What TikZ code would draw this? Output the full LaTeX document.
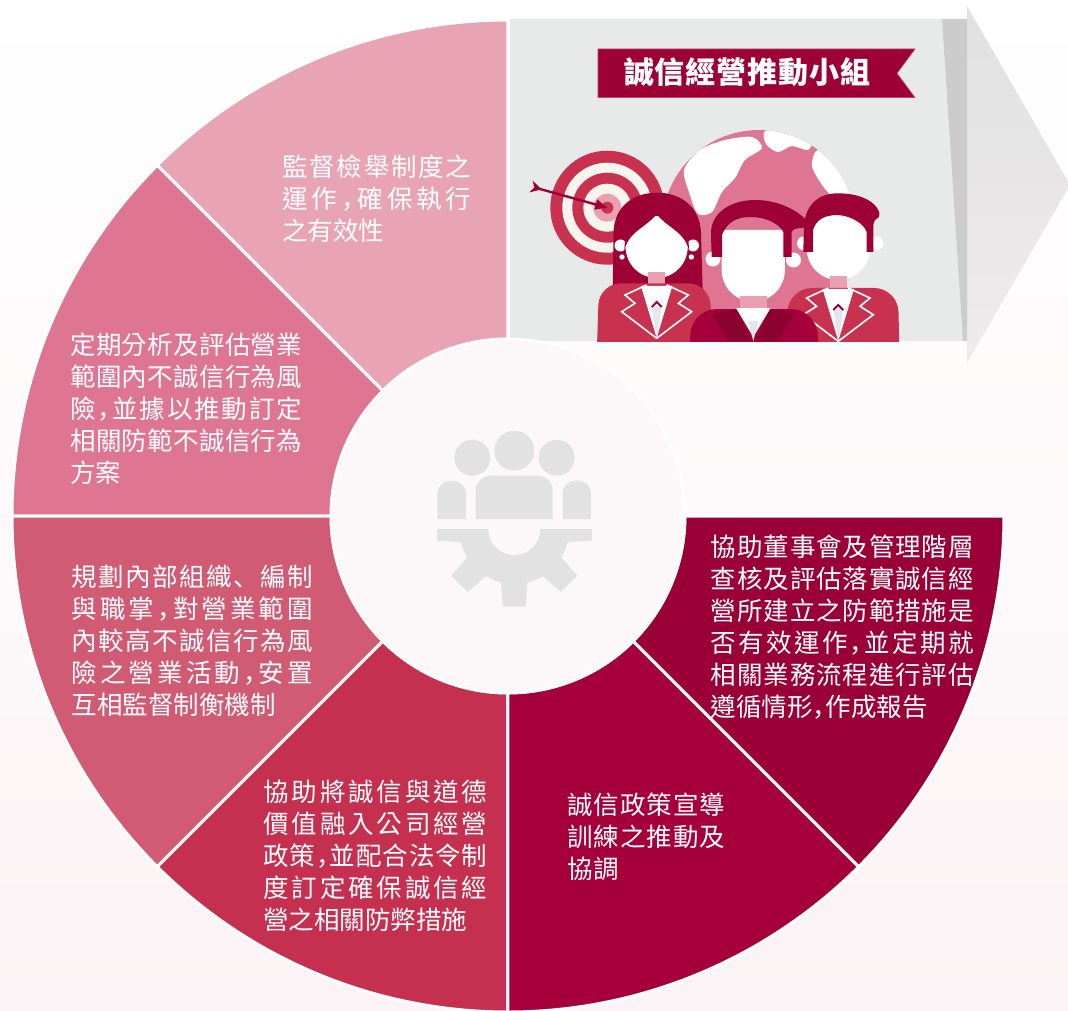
\documentclass[tikz,border=0pt]{standalone}
\usepackage{fontspec}
\newfontfamily\cjk{Noto Sans CJK TC}
\newfontfamily\cjksc{Noto Sans CJK SC}
\usetikzlibrary{arrows.meta}

\definecolor{segA}{HTML}{E8A4B5}
\definecolor{segB}{HTML}{DE7592}
\definecolor{segC}{HTML}{D15B75}
\definecolor{segD}{HTML}{C63050}
\definecolor{segE}{HTML}{A6003A}
\definecolor{segF}{HTML}{9A0036}
\definecolor{panel}{HTML}{E8EAE9}
\definecolor{strip}{HTML}{CBCCCB}
\definecolor{arrowgrey}{HTML}{E1E1E1}
\definecolor{arrowfade}{HTML}{EEEBEC}
\definecolor{hub}{HTML}{FCF8F9}
\definecolor{icon}{HTML}{E2E2E2}
\definecolor{bgpink}{HTML}{FBF3F5}
\definecolor{crimson}{HTML}{9C0034}
\definecolor{bannerline}{HTML}{C04468}
\definecolor{jacket}{HTML}{C8324F}
\definecolor{darkjacket}{HTML}{A5003A}
\definecolor{lapeldark}{HTML}{8A002E}
\definecolor{globe}{HTML}{DE7592}
\definecolor{skinpink}{HTML}{EBA0B2}
\definecolor{cream}{HTML}{F8F5EF}
\definecolor{tiegrey}{HTML}{E4E6EC}

\tikzset{seg/.style={draw=white, line width=3pt}}
\tikzset{px/.style={shift={(-508,516)}, yscale=-1}}
\tikzset{lbl/.style={font=\cjk\fontsize{25.5}{32}\selectfont, text=white, inner sep=0pt, anchor=base west}}
\tikzset{ttl/.style={font=\cjk\bfseries\fontsize{30}{30}\selectfont, text=white, inner sep=0pt, anchor=base}}
\tikzset{lapel/.style={draw=white, line width=1.6pt}}

% spread the characters of one line over a fixed width
\def\spreadfirst#1{#1\spreadrest}
\def\spreadrest#1{\ifx#1\relax\else\hfill#1\expandafter\spreadrest\fi}
\newcommand\spreadline[2]{\makebox[#1][l]{\spreadfirst#2\relax}}
\newcommand\dou{\makebox[.5em][l]{\cjksc ，}}
\newcommand\dun{{\cjksc 、}}

% shirt, tie and lapels, drawn from the collar point
\newcommand\suit{%
  \fill[white] (-15.7,1) -- (15.7,1) -- (0,53) -- cycle;
  \fill[tiegrey] (-5,21) -- (5,21) -- (0,53) -- cycle;
  \draw[crimson, line width=2pt] (-5,22) -- (0,17) -- (5,22);
  \draw[lapel] (-10,0) -- (-31.7,10) -- (-21.7,18.3) -- (-35,26.7) -- (0,53.3);
  \draw[lapel] (10,0) -- (31.7,10) -- (21.7,18.3) -- (35,26.7) -- (0,53.3);
}

\begin{document}
\begin{tikzpicture}[x=1pt, y=1pt]
  \useasboundingbox (-508,-494) rectangle (560,516);
  \shade[top color=white, bottom color=bgpink] (-508,-494) rectangle (560,516);
  \shade[top color=arrowgrey, middle color=arrowgrey, bottom color=arrowfade] (459,510) -- (562,331) -- (459,153) -- cycle;

  \begin{scope}[px]
    \fill[panel] (510,19) rectangle (967,341);
    \fill[strip] (942,19) -- (967,19) -- (967,341) -- (963,341) -- cycle;
    \filldraw[fill=crimson, draw=bannerline, line width=.6pt] (598,49) -- (915,49) -- (897,73.3) -- (915,97.7) -- (598,97.7) -- cycle;
    \node[ttl] (title) at (747,84) {\spreadline{246pt}{誠信經營推動小組}};

    \begin{scope}
      \clip (510,19) rectangle (942,341);
      % globe
      \fill[globe] (759,227) circle[radius=97];
      \begin{scope}
        \clip (759,227) circle[radius=97];
        \fill[white] plot[smooth cycle] coordinates {(684,170) (700,150) (725,140) (752,137) (762,148) (745,160) (735,178) (722,192) (712,212) (698,214) (690,195)};
        \fill[white] plot[smooth cycle] coordinates {(765,131) (790,128) (812,138) (808,150) (792,146) (778,152) (766,144)};
        \fill[white] plot[smooth cycle] coordinates {(818,150) (840,166) (854,195) (860,225) (850,240) (844,220) (834,200) (822,185) (812,166)};
        \fill[white] plot[smooth cycle] coordinates {(668,240) (684,232) (694,250) (692,278) (700,300) (688,312) (674,290) (666,265)};
      \end{scope}
      % target and arrow
      \coordinate (bull) at (607.3,207.7);
      \coordinate (tail) at (531,186.5);
      \foreach \r/\c in {57/jacket,45/cream,35/jacket,24/cream,14/skinpink,6/jacket}
        \fill[\c] (bull) circle[radius=\r];
      \draw[crimson, line width=2.4pt, {Stealth[reversed, length=11pt, width=12pt]}-{Triangle[length=12pt, width=10pt]}] (tail) -- (bull);

      % right man
      \fill[white] (804,243.3) circle[radius=7] (876.5,243.3) circle[radius=7];
      \fill[white] (806.7,215) -- (806.7,248.4) arc[start angle=180, end angle=0, radius=31.6] -- (869.9,215) -- cycle;
      \fill[crimson] (803.3,252) -- (804,225) .. controls (806,203) and (820,193.3) .. (838,193.3)
        .. controls (858,193.3) and (872,200) .. (877,208) .. controls (880,212) and (880,216) .. (878,218)
        .. controls (875,219) and (873,222) .. (873.3,228) -- (873.3,252) -- (866.7,252) -- (866.7,232)
        .. controls (864,224) and (852,216) .. (838,215) .. controls (824,215) and (816,220) .. (813,230) -- (813,252) -- cycle;
      \fill[skinpink] (829.6,276) rectangle (847,292);
      \fill[jacket, rounded corners=24] (786,380) -- (788,288) -- (898,288) -- (900,380) -- cycle;
      \begin{scope}[shift={(838.3,288)}]
        \suit
      \end{scope}

      % woman
      \fill[crimson] (612.7,292) -- (613.5,233) .. controls (614,205) and (635,192.7) .. (657,192.7)
        .. controls (679,192.7) and (700,205) .. (701,233) -- (702.7,292) -- cycle;
      \fill[white] (620.5,245.5) circle[radius=6] (693,245.5) circle[radius=6];
      \fill[white] (622,257) circle[radius=2.7] (691.4,257) circle[radius=2.7];
      \fill[white] (656.7,247) circle[radius=31];
      \fill[crimson] (624,254) .. controls (626,232) and (646,228) .. (656.7,214) .. controls (667,228) and (687,232) .. (689.5,254)
        -- (686,212) -- (627,212) -- cycle;
      \fill[skinpink] (648,272) rectangle (665.4,290);
      \fill[jacket, rounded corners=22] (596,380) -- (599,283.3) -- (710,283.3) -- (713,380) -- cycle;
      \begin{scope}[shift={(656.7,285)}]
        \suit
      \end{scope}

      % man in front
      \fill[white] (713,259) circle[radius=7.5] (793.5,260) circle[radius=7.5];
      \fill[white] (721.7,230) -- (721.7,270) arc[start angle=180, end angle=0, radius=31.6] -- (784.9,230) -- cycle;
      \fill[crimson] (711.7,257) -- (711,235) .. controls (710,212) and (732,200) .. (755,200)
        .. controls (778,200) and (795,210) .. (802,216) .. controls (806,219) and (808,224) .. (806,227)
        .. controls (800,229) and (794,227) .. (791.5,232) -- (791.5,257) -- (783.3,257) -- (783.3,232)
        .. controls (780,225) and (768,217) .. (750,217) .. controls (735,217) and (726,224) .. (722,235) -- (722,257) -- cycle;
      \fill[skinpink] (740,296) rectangle (766.6,312);
      \fill[darkjacket, rounded corners=26] (689,380) -- (691,309) -- (817,309) -- (819,380) -- cycle;
      \fill[lapeldark] (712,313) -- (737,309) -- (751,341) -- (728,341) -- cycle;
      \fill[lapeldark] (794.6,313) -- (769.6,309) -- (755.6,341) -- (778.6,341) -- cycle;
      \fill[white] (736,308) -- (770.6,308) -- (753.3,337) -- cycle;
      \fill[tiegrey] (748.3,321) -- (758.3,321) -- (753.3,341) -- cycle;
    \end{scope}
  \end{scope}

  % ring
  \foreach \a/\c in {90/segA,135/segB,180/segC,225/segD,270/segE,315/segF}
    \filldraw[seg, fill=\c] (\a:496) arc[start angle=\a, end angle=\a+45, radius=496]
      -- ({\a+45}:177) arc[start angle=\a+45, end angle=\a, radius=177] -- cycle;
  \filldraw[fill=hub, draw=white, line width=2.5pt] (0,0) circle[radius=177];

  \begin{scope}[px]
    % team and gear
    \fill[icon] (472.3,457.7) circle[radius=18] (556.7,457.7) circle[radius=18];
    \fill[icon] (437.3,519) [rounded corners=13] -- (437.3,480.7) -- (466,480.7) -- (466,500) [sharp corners] -- (466,519) -- cycle;
    \fill[icon] (591,519) [rounded corners=13] -- (591,480.7) -- (562.6,480.7) -- (562.6,500) [sharp corners] -- (562.6,519) -- cycle;
    \fill[icon, preaction={draw=hub, line width=6pt}] (514.3,450.7) circle[radius=20];
    \fill[icon, preaction={draw=hub, line width=6pt}] (475.7,519) [rounded corners=15] -- (475.7,475.7) -- (552.7,475.7) -- (552.7,500) [sharp corners] -- (552.7,519) -- cycle;
    \begin{scope}
      \clip (430,529) rectangle (600,620);
      \fill[icon] (514.3,529) circle[radius=55];
      \foreach \t in {0,45,...,180}
        \fill[icon, shift={(514.3,529)}, rotate=\t] (50,-13.5) -- (77.5,-11.5) -- (77.5,11.5) -- (50,13.5) -- cycle;
      \fill[hub] (514.3,529) circle[radius=26];
    \end{scope}

    \node[lbl] (audit) at (282.3,176.5) {\parbox[t]{189pt}{\spreadline{189pt}{監督檢舉制度之}\\\spreadline{189pt}{運作\dou 確保執行}\\之有效性}};
    \node[lbl] (risk) at (70,354.8) {\parbox[t]{232pt}{\spreadline{232pt}{定期分析及評估營業}\\\spreadline{232pt}{範圍內不誠信行為風}\\\spreadline{232pt}{險\dou 並據以推動訂定}\\\spreadline{232pt}{相關防範不誠信行為}\\方案}};
    \node[lbl] (structure) at (71.7,586.5) {\parbox[t]{241pt}{\spreadline{241pt}{規劃內部組織\dun 編制}\\\spreadline{241pt}{與職掌\dou 對營業範圍}\\\spreadline{241pt}{內較高不誠信行為風}\\\spreadline{241pt}{險之營業活動\dou 安置}\\互相監督制衡機制}};
    \node[lbl] (ethics) at (263.3,801.5) {\parbox[t]{224pt}{\spreadline{224pt}{協助將誠信與道德}\\\spreadline{224pt}{價值融入公司經營}\\\spreadline{224pt}{政策\dou 並配合法令制}\\\spreadline{224pt}{度訂定確保誠信經}\\營之相關防弊措施}};
    \node[lbl] (training) at (567.3,814.8) {\parbox[t]{158pt}{\spreadline{158pt}{誠信政策宣導}\\\spreadline{158pt}{訓練之推動及}\\協調}};
    \node[lbl] (review) at (710.7,556.5) {\parbox[t]{263pt}{\spreadline{263pt}{協助董事會及管理階層}\\\spreadline{263pt}{查核及評估落實誠信經}\\\spreadline{263pt}{營所建立之防範措施是}\\\spreadline{263pt}{否有效運作\dou 並定期就}\\\spreadline{263pt}{相關業務流程進行評估}\\遵循情形\dou 作成報告}};
  \end{scope}
\end{tikzpicture}
\end{document}
